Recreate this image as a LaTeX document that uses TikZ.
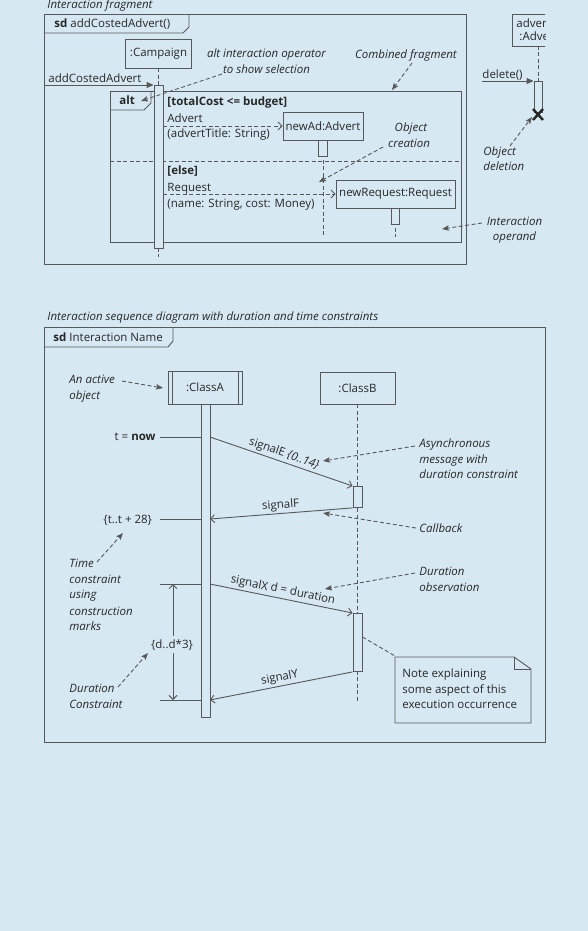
\documentclass[tikz,border=0pt]{standalone}
\usepackage{fontspec}
\setmainfont{Open Sans}
\usetikzlibrary{arrows.meta}
\definecolor{bg}{RGB}{214,232,241}
\definecolor{ln}{RGB}{88,88,88}
\definecolor{tx}{RGB}{40,40,40}
\newcommand\fsz{\fontsize{11.5}{13.8}\selectfont}
\begin{document}
\begin{tikzpicture}[x=1pt,y=-1pt,line width=0.9pt,color=ln,
  every node/.style={text=tx,font=\fsz},
  base/.style={inner sep=0pt},
  lbl/.style={base,anchor=mid west},
  lble/.style={base,anchor=mid east},
  lblc/.style={base,anchor=mid},
  ital/.style={lbl,font=\fsz\itshape},
  italc/.style={lblc,font=\fsz\itshape},
  bold/.style={lbl,font=\fsz\bfseries},
  obj/.style={draw=ln,fill=bg,inner sep=1pt},
  bar/.style={draw=ln,fill=bg,inner sep=0pt},
  life/.style={draw=ln,dash pattern=on 4pt off 2.5pt},
  msg/.style={draw=ln,-{Straight Barb[length=4pt,width=8pt]}},
  msgd/.style={msg,dash pattern=on 4pt off 2.5pt},
  sync/.style={draw=ln,-{Triangle[length=7pt,width=6pt]}},
  note/.style={draw=ln,dash pattern=on 4pt off 2.5pt,-{Stealth[length=7pt,width=5.5pt,inset=1.5pt]}},
  slab/.style={midway,above,sloped,inner sep=2pt}
]
\fill[bg] (0,0) rectangle (588,931);
\useasboundingbox (0,0) rectangle (588,931);

% ================= top diagram =================
\node[ital] (capA) at (47,6) {Interaction fragment};
\draw (44,14) rectangle (466,264);
\draw (44,33) -- (183,33) -- (189,27) -- (189,14);
\node[lbl] (sdA) at (54,25) {\textbf{sd} addCostedAdvert()};

% alt frame
\draw (110,91) rectangle (461,242);
\draw (110,110) -- (144,110) -- (151,103) -- (151,91);
\node[bold] (altL) at (119,101.5) {alt};
\coordinate (sepL) at (110,161);
\coordinate (sepR) at (461,161);
\draw[life] (sepL) -- (sepR);

% Campaign
\node[obj,minimum width=66,minimum height=29] (camp) at (158.5,53.5) {:Campaign};
\coordinate (campEnd) at (158.5,257);
\coordinate (campTop) at (158.5,85);
\draw[life] (camp.south) -- (campTop);
\draw[life] (campTop) -- (campEnd);
\node[bar,minimum width=9,minimum height=163,anchor=north] (campbar) at (campTop) {};
\coordinate (gateA) at (44,85);
\draw[sync] (gateA) -- (campbar.north west);
\node[lbl] (msgA) at (48,79.5) {addCostedAdvert};

% guard 1
\node[bold] (g1) at (167,102.5) {[totalCost <= budget]};
\node[lbl] (m1a) at (167,119.5) {Advert};
\node[lbl] (m1b) at (167,134.5) {(advertTitle: String)};
\node[obj,minimum width=80,minimum height=28] (newad) at (323,126) {newAd:Advert};
\draw[msgd] (campbar.east |- newad.west) -- (newad.west);
\coordinate (newadEnd) at (323,237);
\draw[life] (newad.south) -- (newadEnd);
\node[bar,minimum width=9,minimum height=16,anchor=north] (newadbar) at (newad.south) {};

% guard 2
\node[bold] (g2) at (167,171.5) {[else]};
\node[lbl] (m2a) at (167,188.5) {Request};
\node[lbl] (m2b) at (167,204.5) {(name: String, cost: Money)};
\node[obj,minimum width=119,minimum height=28] (newreq) at (395.5,194) {newRequest:Request};
\draw[msgd] (campbar.east |- newreq.west) -- (newreq.west);
\coordinate (newreqEnd) at (395.5,237);
\draw[life] (newreq.south) -- (newreqEnd);
\node[bar,minimum width=8,minimum height=16,anchor=north] (newreqbar) at (newreq.south) {};

% annotations (top)
\node[italc] (altop1) at (266.5,55) {alt interaction operator};
\node[italc] (altop2) at (266.5,71) {to show selection};
\coordinate (altopS) at (222,74);
\coordinate (altopT) at (141,101);
\draw[note] (altopS) -- (altopT);

\node[italc] (cf) at (406,55.5) {Combined fragment};
\coordinate (cfS) at (412,63);
\coordinate (cfT) at (392,90);
\draw[note] (cfS) -- (cfT);

\node[italc] (oc1) at (411,128.5) {Object};
\node[italc] (oc2) at (409,144.5) {creation};
\coordinate (ocS) at (383,147);
\coordinate (ocT) at (319,182);
\draw[note] (ocS) -- (ocT);

\node[italc] (io1) at (514.5,222.5) {Interaction};
\node[italc] (io2) at (514.5,237.5) {operand};
\coordinate (ioS) at (482,223);
\coordinate (ioT) at (442,229);
\draw[note] (ioS) -- (ioT);

% deletion (clipped object)
\begin{scope}
  \clip (505,0) rectangle (545,60);
  \node[obj,minimum width=60,minimum height=32,anchor=north west] (advbox) at (512,14) {};
  \node[lbl] (adv1) at (516,24.5) {advert};
  \node[lbl] (adv2) at (519,37.5) {:Advert};
\end{scope}
\coordinate (advLife) at (538,46);
\coordinate (advTop) at (538,81);
\draw[life] (advLife) -- (advTop);
\node[bar,minimum width=8,minimum height=31,anchor=north] (advbar) at (advTop) {};
\coordinate (delS) at (482,81);
\draw[sync] (delS) -- (advbar.north west);
\node[lbl] (delL) at (482,75.5) {delete()};
\draw[line width=2.4pt,color=tx] (533,109) -- (543,120) (533,120) -- (543,109);
\node[ital] (od1) at (483,152.5) {Object};
\node[ital] (od2) at (483,167.5) {deletion};
\coordinate (odS) at (510,146);
\coordinate (odT) at (532,117);
\draw[note] (odS) -- (odT);

% ================= bottom diagram =================
\node[ital] (capB) at (47,317.5) {Interaction sequence diagram with duration and time constraints};
\draw (44,327) rectangle (545,742);
\draw (44,347) -- (168,347) -- (173,341) -- (173,327);
\node[lbl] (sdB) at (53,338.5) {\textbf{sd} Interaction Name};

% ClassA (active object)
\node[obj,minimum width=74,minimum height=33] (classA) at (205,387.5) {:ClassA};
\draw (172,371) -- (172,404) (238,371) -- (238,404);
\node[bar,minimum width=9,minimum height=313,anchor=north] (abar) at (205.5,404) {};

% ClassB
\node[obj,minimum width=75,minimum height=32] (classB) at (357.5,388) {:ClassB};
\coordinate (bEnd) at (357.5,703);
\draw[life] (classB.south) -- (bEnd);
\node[bar,minimum width=9,minimum height=21,anchor=north] (bbar1) at (357.5,486) {};
\node[bar,minimum width=9,minimum height=58,anchor=north] (bbar2) at (357.5,613) {};

% messages
\coordinate (eS) at (210,437);
\draw[msg] (eS) -- (bbar1.north west) node[slab] (sigE) {signalE \textit{\{0..14\}}};
\coordinate (fT) at (210,519);
\draw[msg] (bbar1.south west) -- (fT) node[slab] (sigF) {signalF};
\coordinate (xS) at (210,584);
\draw[msg] (xS) -- (bbar2.north west) node[slab] (sigX) {signalX d = duration};
\coordinate (yT) at (210,700);
\draw[msg] (bbar2.south west) -- (yT) node[slab] (sigY) {signalY};

% time constraints
\node[lble] (tnow) at (156,437.5) {t = \textbf{now}};
\coordinate (tnowL) at (160,437);
\draw (tnowL) -- (abar.west |- tnowL);
\node[lbl] (ttc) at (103,520.5) {\{t..t + 28\}};
\coordinate (ttcL) at (160,519);
\draw (ttcL) -- (abar.west |- ttcL);

% construction marks and duration constraint
\coordinate (cm1) at (160,584);
\coordinate (cm2) at (160,700);
\draw (cm1) -- (abar.west |- cm1);
\draw (cm2) -- (abar.west |- cm2);
\node[lblc,inner ysep=3pt] (dc) at (172,645.5) {\{d..d*3\}};
\coordinate (va1) at (173,584);
\coordinate (va2) at (173,700);
\draw[msg] (va1 |- dc.north) -- (va1);
\draw[msg] (va2 |- dc.south) -- (va2);

% annotations (bottom)
\node[ital] (ao1) at (69,380.5) {An active};
\node[ital] (ao2) at (69,396.5) {object};
\coordinate (aoS) at (122,381);
\coordinate (aoT) at (163,388);
\draw[note] (aoS) -- (aoT);

\node[ital] (as1) at (419,444.5) {Asynchronous};
\node[ital] (as2) at (419,460.5) {message with};
\node[ital] (as3) at (419,475.5) {duration constraint};
\coordinate (asS) at (415,446);
\coordinate (asT) at (323,461);
\draw[note] (asS) -- (asT);

\node[ital] (cb) at (419,529.5) {Callback};
\coordinate (cbS) at (416,528);
\coordinate (cbT) at (323,513);
\draw[note] (cbS) -- (cbT);

\node[ital] (tc1) at (69,564.5) {Time};
\node[ital] (tc2) at (69,580.5) {constraint};
\node[ital] (tc3) at (69,595.5) {using};
\node[ital] (tc4) at (69,612.5) {construction};
\node[ital] (tc5) at (69,627.5) {marks};
\coordinate (tcS) at (97,562);
\coordinate (tcT) at (123,533);
\draw[note] (tcS) -- (tcT);

\node[ital] (do1) at (419,572.5) {Duration};
\node[ital] (do2) at (419,588.5) {observation};
\coordinate (doS) at (415,573);
\coordinate (doT) at (325,589);
\draw[note] (doS) -- (doT);

\node[ital] (dcn1) at (69,689.5) {Duration};
\node[ital] (dcn2) at (69,705.5) {Constraint};
\coordinate (dcS) at (118,687);
\coordinate (dcT) at (148,653);
\draw[note] (dcS) -- (dcT);

% note
\draw[fill=bg] (395,657) -- (514,657) -- (531,669) -- (531,723) -- (395,723) -- cycle;
\draw (514,657) -- (514,669) -- (531,669);
\node[lbl] (n1) at (402,674.5) {Note explaining};
\node[lbl] (n2) at (402,690.5) {some aspect of this};
\node[lbl] (n3) at (402,705.5) {execution occurrence};
\coordinate (noteC) at (395,656);
\draw[life] (bbar2.east |- 0,637) -- (noteC);
\end{tikzpicture}
\end{document}
